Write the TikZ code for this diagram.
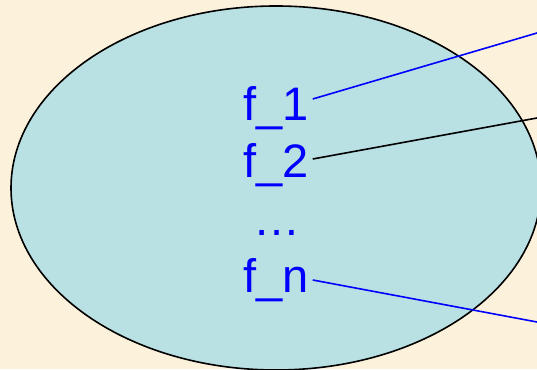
\documentclass[tikz,border=0pt]{standalone}
\usepackage{fontspec}
\setmainfont{Liberation Sans}
\definecolor{parch}{RGB}{252,242,220}
\definecolor{cyanfill}{RGB}{185,224,227}
\definecolor{fblue}{RGB}{0,0,255}
\begin{document}
\begin{tikzpicture}[x=1pt,y=1pt,
  lbl/.style={text=fblue,font=\fontsize{47}{47}\selectfont,inner sep=0pt,anchor=base west},
  conn/.style={line width=1.6pt}]
\useasboundingbox (0,0) rectangle (537,369);
\clip (0,0) rectangle (537,369);
\fill[parch] (0,0) rectangle (537,369);
\draw[fill=cyanfill,line width=1.6pt] (276,181) ellipse [x radius=265, y radius=182];
\node[lbl] (f1) at (243,248) {f\_1};
\node[lbl] (f2) at (243,191) {f\_2};
\node[lbl] (dots) at (253,133) {…};
\node[lbl] (fn) at (243,76) {f\_n};
\coordinate (s1) at ([xshift=4pt,yshift=22pt]f1.base east);
\coordinate (s2) at ([xshift=4pt,yshift=19pt]f2.base east);
\coordinate (sn) at ([xshift=4pt,yshift=13pt]fn.base east);
\coordinate (e1) at (537,336);
\coordinate (e2) at (537,251);
\coordinate (en) at (537,47);
\draw[conn,fblue] (s1) -- (e1);
\draw[conn,black] (s2) -- (e2);
\draw[conn,fblue] (sn) -- (en);
\end{tikzpicture}
\end{document}
